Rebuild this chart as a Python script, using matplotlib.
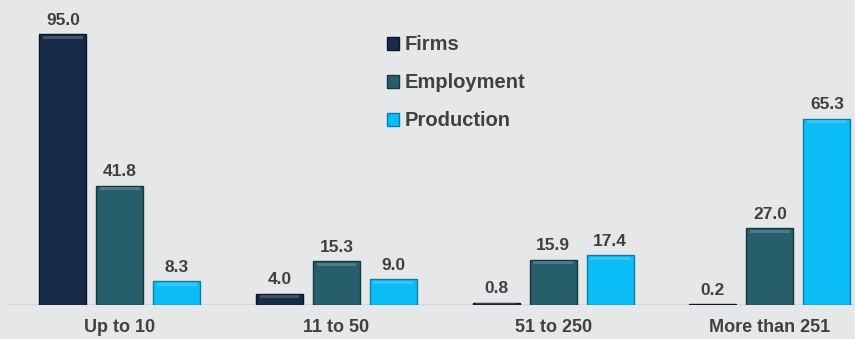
import matplotlib.pyplot as plt
import numpy as np

categories = ["Up to 10", "11 to 50", "51 to 250", "More than 251"]
series_names = ["Firms", "Employment", "Production"]
firms = [95.0, 4.0, 0.8, 0.2]
employment = [41.8, 15.3, 15.9, 27.0]
production = [8.3, 9.0, 17.4, 65.3]

colors = ["#172b48", "#265e6b", "#0abdf5"]
edges = ["#0b1526", "#143740", "#0780a8"]
bg = "#e6e7e9"
txt = "#404040"

plt.rcParams["font.family"] = ["Liberation Sans", "DejaVu Sans"]

fig = plt.figure(figsize=(8.55, 3.39), dpi=100, facecolor=bg)
ax = fig.add_axes([8 / 855, 34 / 339, 847 / 855, 305 / 339])
ax.set_facecolor(bg)

x = np.arange(len(categories))
w = 0.217
off = 0.263
for i, (vals, name) in enumerate(zip([firms, employment, production], series_names)):
    pos = x + (i - 1) * off
    ax.bar(pos, vals, width=w, color=colors[i], edgecolor=edges[i],
           linewidth=1, label=name, zorder=3)
    # light strip at top for bevel look
    for p, v in zip(pos, vals):
        h = min(1.0, v * 0.3)
        ax.bar(p, h, width=w * 0.85, bottom=v - h * 1.6, color="white",
               alpha=0.18, linewidth=0, zorder=4)
        ax.text(p, v + 2.2, f"{v:.1f}", ha="center", va="bottom",
                fontsize=12.5, fontweight="bold", color=txt)

ax.set_xlim(-0.516, 3.393)
ax.set_ylim(0, 106.9)
ax.axhline(0, color="#d2d3d5", linewidth=1.2, zorder=2)
ax.set_yticks([])
ax.set_xticks(x)
ax.set_xticklabels(categories, fontsize=13, fontweight="bold", color=txt)
ax.tick_params(axis="x", length=0, pad=10)
for s in ax.spines.values():
    s.set_visible(False)

leg = ax.legend(loc="upper left", bbox_to_anchor=(0.426, 0.944), frameon=False,
                handlelength=0.6, handleheight=0.6, handletextpad=0.3,
                labelspacing=0.95, prop={"size": 14.5, "weight": "bold"})
for t in leg.get_texts():
    t.set_color(txt)

fig.savefig("out.png", dpi=100, facecolor=bg)
